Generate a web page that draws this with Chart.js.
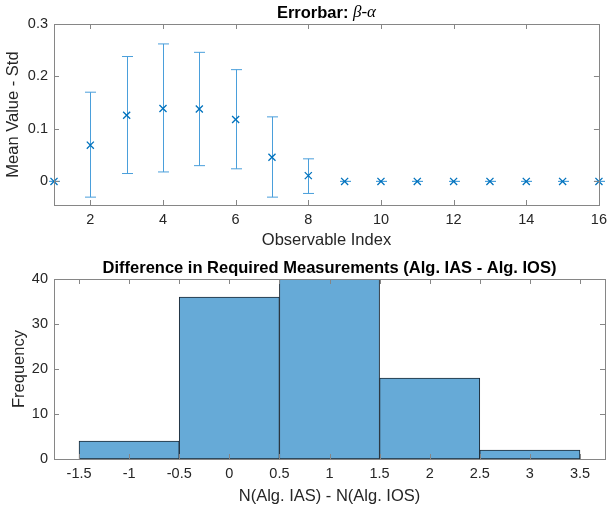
<!DOCTYPE html>
<html>
<head>
<meta charset="utf-8">
<script src="https://cdn.jsdelivr.net/npm/chart.js@4.4.0/dist/chart.umd.min.js"></script>
<style>
    body { margin: 0; background: #fff; }
    #wrap { position: relative; width: 613px; height: 509px; }
    .box { position: absolute; left: 0; width: 613px; }
</style>
</head>
<body>
<div id="wrap">
    <div class="box" style="top:0;height:255px"><canvas id="errChart"></canvas></div>
    <div class="box" style="top:255px;height:254px"><canvas id="histChart"></canvas></div>
</div>
<script>
// errorbar data (beta - alpha)
const errX = [1, 2, 3, 4, 5, 6, 7, 8, 9, 10, 11, 12, 13, 14, 15, 16];
const errMean = [0, 0.069, 0.126, 0.139, 0.138, 0.118, 0.046, 0.011, 0, 0, 0, 0, 0, 0, 0, 0];
const errLow = [0, -0.030, 0.015, 0.018, 0.030, 0.024, -0.030, -0.023, 0, 0, 0, 0, 0, 0, 0, 0];
const errHigh = [0, 0.170, 0.238, 0.262, 0.246, 0.213, 0.123, 0.043, 0, 0, 0, 0, 0, 0, 0, 0];
const errXTicks = [2, 4, 6, 8, 10, 12, 14, 16];
const errYTicks = [0, 0.1, 0.2, 0.3];

// histogram data
const binCenters = [-1, 0, 1, 2, 3];
const binCounts = [4, 36, 40, 18, 2];
const histXTicks = [-1.5, -1, -0.5, 0, 0.5, 1, 1.5, 2, 2.5, 3, 3.5];
const histYTicks = [0, 10, 20, 30, 40];

const FONT = "'Liberation Sans', Arial, Helvetica, sans-serif";
const AXIS_COLOR = '#868686';
const TEXT_COLOR = '#262626';

Chart.defaults.font.family = FONT;
Chart.defaults.color = TEXT_COLOR;
Chart.defaults.animation = false;

// box + inward ticks on all four sides, like matlab
const matlabAxes = {
    id: 'matlabAxes',
    afterDatasetsDraw(chart) {
        const { ctx, chartArea: a, scales } = chart;
        const len = 5;
        ctx.save();
        ctx.strokeStyle = AXIS_COLOR;
        ctx.lineWidth = 1;
        ctx.beginPath();
        scales.x.ticks.forEach(t => {
            const px = Math.round(scales.x.getPixelForValue(t.value)) + 0.5;
            ctx.moveTo(px, a.bottom); ctx.lineTo(px, a.bottom - len);
            ctx.moveTo(px, a.top); ctx.lineTo(px, a.top + len);
        });
        scales.y.ticks.forEach(t => {
            const py = Math.round(scales.y.getPixelForValue(t.value)) + 0.5;
            ctx.moveTo(a.left, py); ctx.lineTo(a.left + len, py);
            ctx.moveTo(a.right, py); ctx.lineTo(a.right - len, py);
        });
        ctx.stroke();
        ctx.strokeRect(Math.round(a.left) + 0.5, Math.round(a.top) + 0.5,
            Math.round(a.right - a.left), Math.round(a.bottom - a.top));
        ctx.restore();
    }
};

// title made of parts so the greek letters can be italic serif
const partTitle = {
    id: 'partTitle',
    afterDraw(chart, args, opts) {
        if (!opts.parts) return;
        const { ctx, chartArea: a } = chart;
        ctx.save();
        ctx.fillStyle = '#000';
        ctx.textBaseline = 'middle';
        let total = 0;
        opts.parts.forEach(p => { ctx.font = p.font; total += ctx.measureText(p.text).width; });
        let x = (a.left + a.right) / 2 - total / 2;
        opts.parts.forEach(p => {
            ctx.font = p.font;
            ctx.fillText(p.text, x, opts.y);
            x += ctx.measureText(p.text).width;
        });
        ctx.restore();
    }
};

// vertical error bars with caps, drawn through the chart scales
const errorBars = {
    id: 'errorBars',
    beforeDatasetsDraw(chart, args, opts) {
        if (!opts.low) return;
        const { ctx, scales: { x, y } } = chart;
        const cap = 5.5;
        ctx.save();
        ctx.strokeStyle = opts.color;
        ctx.lineWidth = 1;
        ctx.beginPath();
        opts.x.forEach((v, i) => {
            const px = Math.round(x.getPixelForValue(v)) + 0.5;
            const yl = y.getPixelForValue(opts.low[i]);
            const yh = y.getPixelForValue(opts.high[i]);
            ctx.moveTo(px, yl); ctx.lineTo(px, yh);
            ctx.moveTo(px - cap, yl); ctx.lineTo(px + cap, yl);
            ctx.moveTo(px - cap, yh); ctx.lineTo(px + cap, yh);
        });
        ctx.stroke();
        ctx.restore();
    }
};

function fixTicks(list) {
    return s => { s.ticks = list.map(v => ({ value: v })); };
}

const tickFont = { size: 14.5 };
const labelFont = { size: 16.5 };
const titleFont = "bold 16.5px " + FONT;

// errorbar chart
new Chart(document.getElementById('errChart'), {
    type: 'scatter',
    data: {
        datasets: [{
            data: errX.map((v, i) => ({ x: v, y: errMean[i] })),
            pointStyle: 'crossRot',
            pointRadius: 5,
            pointBorderWidth: 1.3,
            borderColor: '#0072BD',
            backgroundColor: '#0072BD',
            clip: false
        }]
    },
    options: {
        responsive: true,
        maintainAspectRatio: false,
        layout: { padding: { top: 24, right: 8, left: 0, bottom: 0 } },
        plugins: {
            legend: { display: false },
            tooltip: { enabled: false },
            partTitle: {
                y: 13,
                parts: [
                    { text: 'Errorbar: ', font: titleFont },
                    { text: 'β-α', font: "italic 17px 'Liberation Serif', 'DejaVu Serif', serif" }
                ]
            },
            errorBars: { x: errX, low: errLow, high: errHigh, color: '#4a9fdb' }
        },
        scales: {
            x: {
                type: 'linear',
                min: 1, max: 16,
                afterBuildTicks: fixTicks(errXTicks),
                afterFit: s => { s.height = 50; },
                grid: { display: false, drawTicks: false },
                border: { display: false },
                ticks: { padding: 6, font: tickFont, callback: v => String(v) },
                title: { display: true, text: 'Observable Index', font: labelFont, padding: { top: 0, bottom: 5 } }
            },
            y: {
                min: -0.045, max: 0.3,
                afterBuildTicks: fixTicks(errYTicks),
                afterFit: s => { s.width = 54; },
                grid: { display: false, drawTicks: false },
                border: { display: false },
                ticks: { padding: 6, font: tickFont, callback: v => String(v) },
                title: { display: true, text: 'Mean Value - Std', font: labelFont, padding: { top: 3.5, bottom: 0 } }
            }
        }
    },
    plugins: [matlabAxes, partTitle, errorBars]
});

// histogram
new Chart(document.getElementById('histChart'), {
    type: 'bar',
    data: {
        datasets: [{
            data: binCenters.map((v, i) => ({ x: v, y: binCounts[i] })),
            backgroundColor: 'rgb(102,170,215)',
            borderColor: '#1c2a36',
            borderWidth: 1,
            borderSkipped: false,
            barThickness: 'flex',
            barPercentage: 1,
            categoryPercentage: 1
        }]
    },
    options: {
        responsive: true,
        maintainAspectRatio: false,
        layout: { padding: { top: 24, right: 8, left: 0, bottom: 0 } },
        plugins: {
            legend: { display: false },
            tooltip: { enabled: false },
            partTitle: {
                y: 13,
                parts: [
                    { text: 'Difference in Required Measurements (Alg. IAS - Alg. IOS)', font: titleFont }
                ]
            }
        },
        scales: {
            x: {
                type: 'linear',
                offset: false,
                min: -1.75, max: 3.75,
                afterBuildTicks: fixTicks(histXTicks),
                afterFit: s => { s.height = 50; },
                grid: { display: false, drawTicks: false },
                border: { display: false },
                ticks: { padding: 6, font: tickFont, callback: v => String(v) },
                title: { display: true, text: 'N(Alg. IAS) - N(Alg. IOS)', font: labelFont, padding: { top: 0, bottom: 3 } }
            },
            y: {
                min: 0, max: 40,
                afterBuildTicks: fixTicks(histYTicks),
                afterFit: s => { s.width = 54; },
                grid: { display: false, drawTicks: false },
                border: { display: false },
                ticks: { padding: 6, font: tickFont, callback: v => String(v) },
                title: { display: true, text: 'Frequency', font: labelFont, padding: { top: 9.5, bottom: 0 } }
            }
        }
    },
    plugins: [matlabAxes, partTitle]
});
</script>
</body>
</html>
